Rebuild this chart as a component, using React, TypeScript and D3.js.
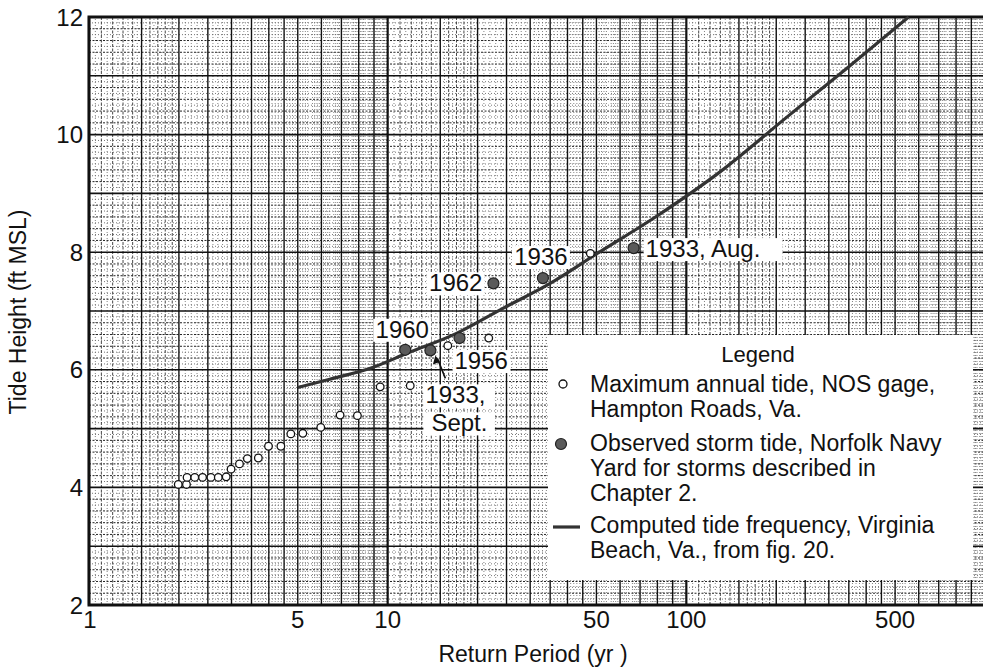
import React from "react";
import * as d3 from "d3";

// Maximum annual tide, NOS gage, Hampton Roads (return period yr, height ft MSL)
const annualT = [1.99, 2.12, 2.13, 2.26, 2.4, 2.56, 2.71, 2.88, 2.99, 3.19, 3.39, 3.69, 3.99, 4.39, 4.74, 5.2, 5.97, 6.93, 7.92, 9.44, 11.9, 15.9, 21.8, 47.7];
const annualH = [4.05, 4.05, 4.17, 4.17, 4.17, 4.17, 4.17, 4.18, 4.31, 4.4, 4.49, 4.5, 4.7, 4.7, 4.91, 4.92, 5.02, 5.23, 5.22, 5.71, 5.73, 6.41, 6.54, 7.98];

// Observed storm tides, Norfolk Navy Yard
const stormNames = ["1960", "1933,|Sept.", "1956", "1962", "1936", "1933, Aug."];
const stormT = [11.45, 13.9, 17.4, 22.6, 33.1, 66.6];
const stormH = [6.34, 6.33, 6.54, 7.47, 7.56, 8.07];

// Computed tide frequency, Virginia Beach (fig. 20)
const curveT = [5.0, 6.4, 8.8, 11.6, 17, 24.4, 35, 50, 80, 130, 215, 345, 555];
const curveH = [5.7, 5.84, 6.03, 6.28, 6.62, 7.05, 7.47, 7.97, 8.62, 9.37, 10.28, 11.13, 12.0];

const xTickValues = [1, 5, 10, 50, 100, 500];
const yTickValues = [2, 4, 6, 8, 10, 12];

const legendTitle = "Legend";
const legendItems = [
    ["Maximum annual tide, NOS gage,", "Hampton Roads, Va."],
    ["Observed storm tide, Norfolk Navy", "Yard for storms described in", "Chapter 2."],
    ["Computed tide frequency, Virginia", "Beach, Va., from fig. 20."]
];

const WIDTH = 983;
const HEIGHT = 670;
const FONT = "'Liberation Sans', Arial, Helvetica, sans-serif";

// where each storm label sits relative to its point
const labelLayout = [
    { dx: -3, dy: -12, anchor: "middle" },
    { dx: -5, dy: 53, anchor: "start" },
    { dx: -5, dy: 31, anchor: "start" },
    { dx: -11, dy: 8, anchor: "end" },
    { dx: -2, dy: -13, anchor: "middle" },
    { dx: 12, dy: 9, anchor: "start" }
];
const LABEL_SIZE = 24;
const LABEL_GAP = 28;

export default function App() {
    const margin = { top: 17, right: -2, bottom: 65, left: 89 };

    const x = d3.scaleLog([1, 1000], [margin.left, WIDTH - margin.right]);
    const y = d3.scaleLinear([2, 12], [HEIGHT - margin.bottom, margin.top]);

    const x0 = x.range()[0], x1 = x.range()[1];
    const y0 = y.range()[0], y1 = y.range()[1];

    // log paper grid: vertical lines
    const heavyV: number[] = [];
    const thinV: number[] = [];
    const dotV: number[] = [];
    for (const dec of [1, 10, 100]) {
        for (const m of [1, 1.5, 2, 2.5, 3, 3.5, 4, 4.5, 5, 6, 7, 8, 9]) heavyV.push(m * dec);
        for (let i = 11; i < 20; i++) if (i !== 15) thinV.push((i / 10) * dec);
        for (let i = 0; i < 20; i++) if (i % 2 === 1) dotV.push((1 + i * 0.05) * dec);
        for (let i = 20; i < 100; i++) if (i % 5 !== 0) dotV.push((i / 10) * dec);
    }
    heavyV.push(1000);

    // linear grid: horizontal lines
    const heavyH = d3.range(2, 12.01, 1);
    const midH = d3.range(2, 12.01, 0.2).filter((v) => Math.abs(v - Math.round(v)) > 0.01);
    const fineH = d3.range(2.1, 12, 0.2);

    const curveLine = d3.line<number>()
        .x((d, i) => x(curveT[i]))
        .y((d) => y(d))
        .curve(d3.curveMonotoneX);

    const legendX = 548, legendY = 335;

    return <svg width={WIDTH} height={HEIGHT} style={{ display: "block", background: "white" }} fontFamily={FONT}>
        <style>{`body{margin:0}`}</style>

        <g name="grid">
            {fineH.map((v) => (
                <line key={"fh" + v} x1={x0} x2={x1} y1={y(v)} y2={y(v)}
                    stroke="#555" strokeWidth={0.8} strokeDasharray="1,2" />
            ))}
            {midH.map((v) => (
                <line key={"mh" + v} x1={x0} x2={x1} y1={y(v)} y2={y(v)}
                    stroke="#222" strokeWidth={1} strokeDasharray="2,1.5" />
            ))}
            {dotV.map((v) => (
                <line key={"dv" + v} x1={x(v)} x2={x(v)} y1={y0} y2={y1}
                    stroke="#666" strokeWidth={0.8} strokeDasharray="1,2" />
            ))}
            {thinV.map((v) => (
                <line key={"tv" + v} x1={x(v)} x2={x(v)} y1={y0} y2={y1}
                    stroke="#333" strokeWidth={0.9} strokeDasharray="3,1.5" />
            ))}
            {heavyV.map((v) => (
                <line key={"hv" + v} x1={x(v)} x2={x(v)} y1={y0} y2={y1}
                    stroke="#111" strokeWidth={[1, 10, 100].includes(v) ? 2.2 : 1.4} />
            ))}
            {heavyH.map((v) => (
                <line key={"hh" + v} x1={x0} x2={x1} y1={y(v)} y2={y(v)}
                    stroke="#111" strokeWidth={1.6} />
            ))}
            <rect x={x0} y={y1} width={x1 - x0} height={y0 - y1}
                fill="none" stroke="#111" strokeWidth={3} />
        </g>

        <g name="yTicks" fontSize={24} fill="#111">
            {yTickValues.map((v) => (
                <text key={v} x={x0 - 6} y={y(v)} dy="0.36em" textAnchor="end">{v}</text>
            ))}
        </g>
        <g name="xTicks" fontSize={24} fill="#111">
            {xTickValues.map((v) => (
                <text key={v} x={x(v) + (v === 1 ? 1 : 0)} y={y0 + 23} textAnchor="middle">{v}</text>
            ))}
        </g>
        <text x={533} y={662} textAnchor="middle" fontSize={23} fill="#111">Return Period (yr )</text>
        <text transform={`translate(26, 312) rotate(-90)`} textAnchor="middle" fontSize={23} fill="#111">Tide Height (ft  MSL)</text>

        <path d={curveLine(curveH)!} fill="none" stroke="#333" strokeWidth={3.2} />

        <g name="annual">
            {annualT.map((t, i) => (
                <circle key={i} cx={x(t)} cy={y(annualH[i])} r={3.8}
                    fill="white" stroke="#111" strokeWidth={1.3} />
            ))}
        </g>

        <g name="storms">
            {stormT.map((t, i) => {
                const px = x(t), py = y(stormH[i]);
                const lay = labelLayout[i];
                const lines = stormNames[i].split("|");
                return <g key={i}>
                    {lines.map((ln, j) => {
                        const w = ln.length * 13.5;
                        const tx = px + lay.dx;
                        const left = lay.anchor === "start" ? tx : lay.anchor === "end" ? tx - w : tx - w / 2;
                        return <rect key={"b" + j} x={left - 2} y={py + lay.dy + j * LABEL_GAP - 19}
                            width={w + 4} height={23} fill="white" />;
                    })}
                    {lines.map((ln, j) => (
                        <text key={"t" + j} x={px + lay.dx + j * 6} y={py + lay.dy + j * LABEL_GAP}
                            textAnchor={lay.anchor} fontSize={LABEL_SIZE} fill="#111">{ln}</text>
                    ))}
                </g>;
            })}
            {stormT.map((t, i) => (
                <circle key={"c" + i} cx={x(t)} cy={y(stormH[i])} r={5.5}
                    fill="#5a5a5a" stroke="#222" strokeWidth={1.2} />
            ))}
            {/* arrow from "1933, Sept." to its point */}
            <g>
                <line x1={x(stormT[1]) + 15} y1={y(stormH[1]) + 28}
                    x2={x(stormT[1]) + 7} y2={y(stormH[1]) + 8}
                    stroke="#111" strokeWidth={1.6} />
                <path d={`M${x(stormT[1]) + 5},${y(stormH[1]) + 5} l-2.5,9 l7,-2.5 z`} fill="#111" />
            </g>
        </g>

        <g name="legend" fill="#111">
            <rect x={legendX} y={legendY} width={425} height={245} fill="white" />
            <text x={legendX + 210} y={legendY + 27} textAnchor="middle" fontSize={22}>{legendTitle}</text>
            <circle cx={legendX + 15} cy={legendY + 49} r={4} fill="white" stroke="#111" strokeWidth={1.3} />
            <circle cx={legendX + 13} cy={legendY + 109} r={5.5} fill="#5a5a5a" stroke="#222" strokeWidth={1.2} />
            <line x1={legendX + 5} x2={legendX + 32} y1={legendY + 192} y2={legendY + 192} stroke="#333" strokeWidth={3.2} />
            {legendItems.map((item, i) => {
                const top = [57, 116, 198][i];
                return item.map((ln, j) => (
                    <text key={i + "-" + j} x={legendX + 42} y={legendY + top + j * 25} fontSize={23}>{ln}</text>
                ));
            })}
        </g>
    </svg>;
}
